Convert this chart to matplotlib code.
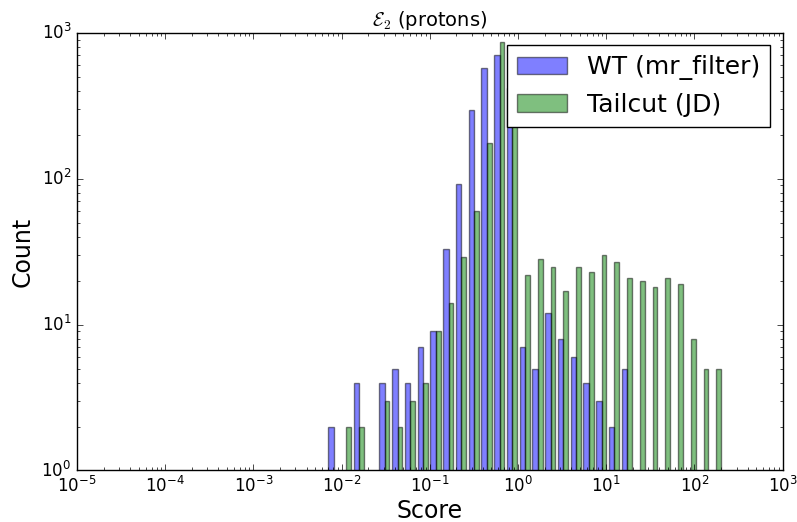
import matplotlib
matplotlib.use('Agg')
import matplotlib.pyplot as plt
import numpy as np

plt.style.use('classic')
plt.rcParams['figure.facecolor'] = 'white'

# Score range covered by the histogram (log-spaced bins)
score_min, score_max = 0.0068, 206.0
n_bins = 31

# Counts per bin (0 = empty bin)
wt_counts = [2, 0, 4, 0, 4, 5, 4, 7, 9, 33, 92, 295, 572, 700, 420,
             7, 5, 12, 8, 6, 4, 3, 2, 5, 0, 0, 0, 0, 0, 0, 0]
tc_counts = [0, 2, 2, 0, 3, 2, 3, 4, 9, 14, 29, 60, 176, 869, 340,
             22, 28, 25, 17, 25, 23, 30, 27, 21, 20, 18, 21, 19, 8, 5, 5]
labels = ['WT (mr_filter)', 'Tailcut (JD)']

bins = np.logspace(np.log10(score_min), np.log10(score_max), n_bins + 1)
centers = np.sqrt(bins[:-1] * bins[1:])

fig, ax = plt.subplots(1, 1, figsize=(7.97, 5.22), dpi=100)
ax.hist([centers, centers], bins=bins, weights=[wt_counts, tc_counts],
        log=True, alpha=0.5, color=['b', 'g'], edgecolor='k', label=labels)
ax.set_xscale('log')
ax.set_xlim(1e-5, 1e3)
ax.set_ylim(1, 1e3)
ax.set_xlabel('Score', fontsize=17, labelpad=2)
ax.set_ylabel('Count', fontsize=17)
ax.set_title(r'$\mathcal{E}_2$ (protons)', fontsize=14)
ax.legend(loc='upper right', fontsize=18)
plt.subplots_adjust(left=0.0966, right=0.982, top=0.937, bottom=0.0987)
plt.savefig('out.png', dpi=100)
